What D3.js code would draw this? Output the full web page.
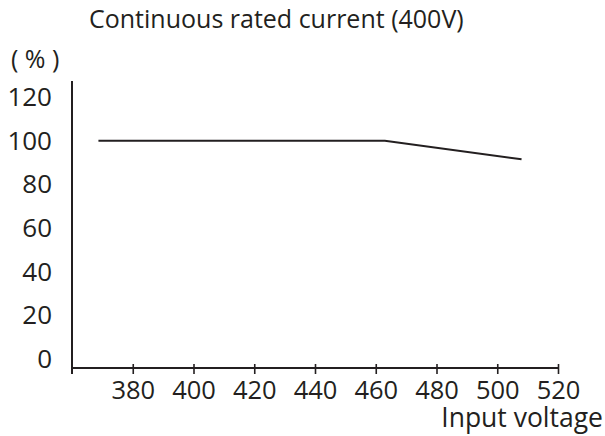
<!DOCTYPE html>
<html>
<head>
<meta charset="utf-8">
<script src="https://cdn.jsdelivr.net/npm/d3@7"></script>
<style>
html,body{margin:0;padding:0;background:#fff;}
svg{display:block;}
text{font-family:"Open Sans","Noto Sans",sans-serif;fill:#231f20;}
</style>
</head>
<body>
<svg id="chart" width="605" height="436"></svg>
<script>
// Data
const voltage = [368.7, 463, 508];
const ratedPct = [100, 100, 91.5];
const xTicks = [380, 400, 420, 440, 460, 480, 500, 520];
const yTicks = [0, 20, 40, 60, 80, 100, 120];
const titleText = "Continuous rated current (400V)";
const yUnit = "( % )";
const xLabel = "Input voltage";

const svg = d3.select("#chart");
const ink = "#231f20";

const x = d3.scaleLinear().domain([360, 520]).range([72, 558]);
const y = d3.scaleLinear().domain([0, 120]).range([359, 97]);
const axisY = 368;

// title
svg.append("text").attr("x", 89).attr("y", 28).attr("font-size", 25).text(titleText);
svg.append("text").attr("x", 11).attr("y", 68).attr("font-size", 25).text(yUnit);

// y axis line
svg.append("line").attr("x1", 72).attr("x2", 72).attr("y1", 81).attr("y2", 374)
  .attr("stroke", ink).attr("stroke-width", 2);

// y labels
svg.append("g").selectAll("text").data(yTicks).join("text")
  .attr("x", 52).attr("y", d => y(d)).attr("dy", "0.35em")
  .attr("text-anchor", "end").attr("font-size", 26).text(d => d);

// x axis
const xAxis = d3.axisBottom(x).tickValues(xTicks).tickSize(10).tickSizeOuter(0).tickPadding(2);
const gx = svg.append("g").attr("transform", `translate(0,${axisY - 4})`).call(xAxis);
gx.select(".domain").remove();
gx.selectAll(".tick line").attr("stroke", ink).attr("stroke-width", 1.6);
gx.selectAll(".tick text").attr("font-size", 25.5).attr("fill", ink)
  .attr("font-family", "Open Sans, Noto Sans, sans-serif").attr("dy", "0.9em");
svg.append("line").attr("x1", 72).attr("x2", 558).attr("y1", axisY).attr("y2", axisY)
  .attr("stroke", ink).attr("stroke-width", 2);

// x label
svg.append("text").attr("x", 603).attr("y", 427).attr("text-anchor", "end")
  .attr("font-size", 26.5).text(xLabel);

// line
const pts = voltage.map((v, i) => [v, ratedPct[i]]);
svg.append("path").datum(pts)
  .attr("d", d3.line().x(d => x(d[0])).y(d => y(d[1])))
  .attr("fill", "none").attr("stroke", ink).attr("stroke-width", 2);
</script>
</body>
</html>
